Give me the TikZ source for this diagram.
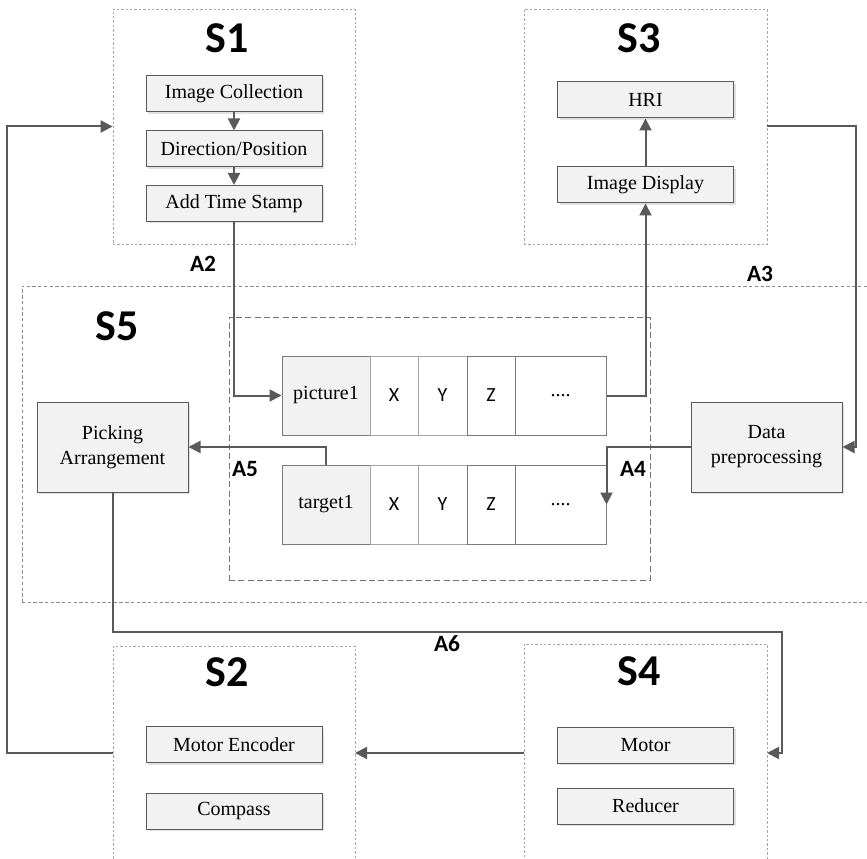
\documentclass[tikz,border=0pt]{standalone}
\usepackage{fontspec}
\setmainfont{Liberation Serif}
\newfontfamily\labfont{Carlito}
\usetikzlibrary{arrows.meta,shadows}
\definecolor{lnc}{HTML}{595959}
\definecolor{bxf}{HTML}{F2F2F2}
\definecolor{grpc}{HTML}{A6A6A6}
\tikzset{
  box/.style={draw=lnc, line width=0.75pt, fill=bxf, inner sep=0pt,
    font=\fontsize{15}{18.75}\selectfont, align=center,
    drop shadow={shadow xshift=1.5pt, shadow yshift=-1.5pt, fill=black!12, opacity=1}},
  sbox/.style={box, minimum width=132pt, minimum height=27pt},
  bigbox/.style={box, minimum width=113.25pt, minimum height=67.5pt},
  cell/.style={draw=lnc!80, line width=0.75pt, fill=white, inner sep=0pt, minimum height=59.25pt},
  celltxt/.style={cell, font=\labfont\fontsize{15}{18}\selectfont},
  grp/.style={draw=grpc, line width=0.6pt, dash pattern=on 1.8pt off 1.5pt, inner sep=0pt},
  inbox/.style={draw=black!55, line width=0.75pt, dash pattern=on 4.5pt off 2.5pt, inner sep=0pt},
  slab/.style={font=\labfont\bfseries\fontsize{33}{36}\selectfont},
  alab/.style={font=\labfont\bfseries\fontsize{17.5}{20}\selectfont},
  conn/.style={draw=lnc, line width=1.5pt},
  arr/.style={conn, -{Triangle[length=9pt,width=9pt]}},
}
\begin{document}
\begin{tikzpicture}[x=0.75pt,y=-0.75pt]
\useasboundingbox (0,0) rectangle (867,859);
\clip (0,0) rectangle (867,859);
% group boxes
\node[grp, minimum width=181.5pt, minimum height=176.25pt] (s1box) at (234,126.5) {};
\node[grp, minimum width=182.25pt, minimum height=176.25pt] (s3box) at (645.5,126.5) {};
\node[grp, minimum width=181.5pt, minimum height=175.5pt] (s2box) at (234,763) {};
\node[grp, minimum width=182.25pt, minimum height=177pt] (s4box) at (645.5,762) {};
\node[grp, draw=black!45, dash pattern=on 2.5pt off 1.8pt, minimum width=658.5pt, minimum height=237pt] (s5box) at (461,444) {};
\node[inbox, minimum width=315.75pt, minimum height=197.25pt] (inner) at (439.5,448.5) {};
% titles
\node[slab] (s1lab) at (227,38) {S1};
\node[slab] (s3lab) at (639,38) {S3};
\node[slab] (s5lab) at (117.5,326) {S5};
\node[slab] (s2lab) at (227,672) {S2};
\node[slab] (s4lab) at (639,671) {S4};
% S1
\node[sbox] (ic) at (234,94) {Image Collection};
\node[sbox] (dpos) at (234,149) {Direction/Position};
\node[sbox] (ats) at (234,203.5) {Add Time Stamp};
% S3
\node[sbox] (hri) at (645.5,100) {HRI};
\node[sbox] (idisp) at (645.5,185) {Image Display};
% S2
\node[sbox] (me) at (234,744.5) {Motor Encoder};
\node[sbox] (cp) at (234,811) {Compass};
% S4
\node[sbox] (mot) at (645.5,745) {Motor};
\node[sbox] (red) at (645.5,806) {Reducer};
% S5
\node[bigbox] (pick) at (112.5,447) {Picking\\Arrangement};
\node[bigbox] (datap) at (766.5,447) {Data\\preprocessing};
% rows
\node[cell, fill=bxf, minimum width=66pt, font=\fontsize{15}{18}\selectfont] (p1) at (326,395.5) {picture1};
\node[celltxt, minimum width=36pt, draw=black!35] (px) at (394,395.5) {X};
\node[celltxt, minimum width=36.75pt, draw=black!35] (py) at (442.5,395.5) {Y};
\node[celltxt, minimum width=36pt] (pz) at (491,395.5) {Z};
\node[cell, minimum width=68.25pt, font=\fontsize{15}{18}\selectfont] (pd) at (560.5,395.5) {....};
\node[cell, fill=bxf, minimum width=66pt, font=\fontsize{15}{18}\selectfont] (t1) at (326,504.5) {target1};
\node[celltxt, minimum width=36pt, draw=black!35] (tx) at (394,504.5) {X};
\node[celltxt, minimum width=36.75pt, draw=black!35] (ty) at (442.5,504.5) {Y};
\node[celltxt, minimum width=36pt] (tz) at (491,504.5) {Z};
\node[cell, minimum width=68.25pt, font=\fontsize{15}{18}\selectfont] (td) at (560.5,504.5) {....};
% labels
\node[alab] (a2) at (203,264) {A2};
\node[alab] (a3) at (760,274) {A3};
\node[alab] (a4) at (633,469) {A4};
\node[alab] (a5) at (245,469) {A5};
\node[alab] (a6) at (447,644) {A6};
% coordinates
\coordinate (r3) at (856,126.5);
\coordinate (a6r) at (782,632);
\coordinate (s4in) at (767,753);
\coordinate (s4out) at (524,753);
\coordinate (s2in) at (355,753);
\coordinate (s2out) at (113,753);
\coordinate (l1) at (7,126.5);
% connectors
\draw[arr] (ic) -- (dpos);
\draw[arr] (dpos) -- (ats);
\draw[arr] (ats.south) |- (p1.west);
\draw[arr] (pd.east) -| (idisp.south);
\draw[arr] (idisp) -- (hri);
\draw[arr] (s3box.east) -- (r3) |- (datap.east);
\draw[arr] (datap.west) -| (td.east);
\draw[arr] (t1.north) |- (pick.east);
\draw[arr] (pick.south) |- (a6r) |- (s4in);
\draw[arr] (s4out) -- (s2in);
\draw[arr] (s2out) -| (l1) -- (s1box.west);
\end{tikzpicture}
\end{document}
